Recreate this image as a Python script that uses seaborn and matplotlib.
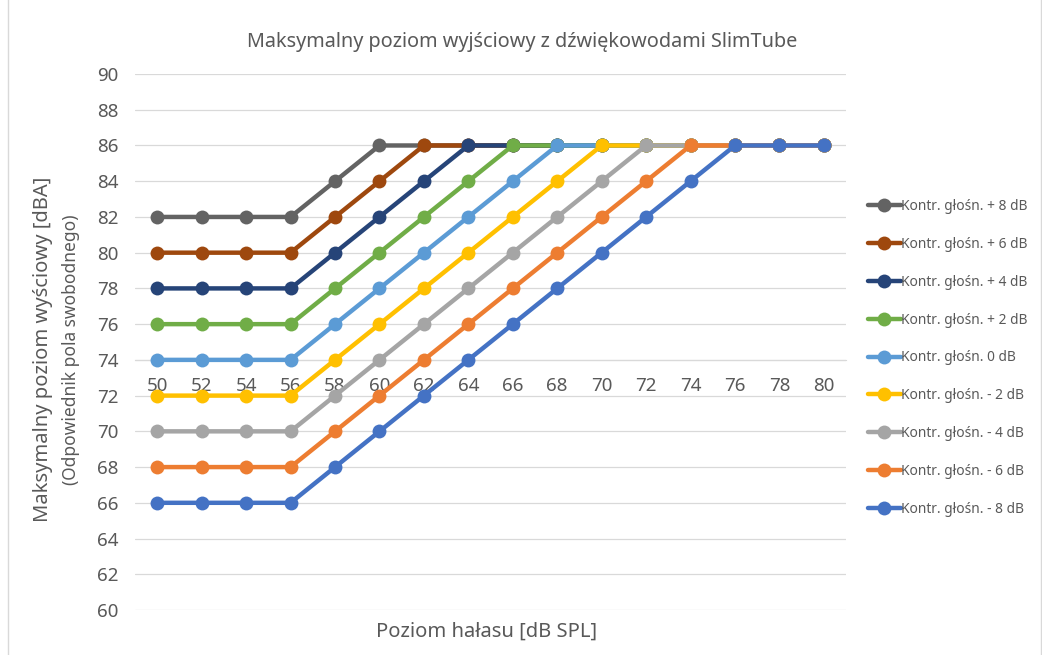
import seaborn as sns
import pandas as pd
import numpy as np
import matplotlib.pyplot as plt
from matplotlib.patches import Rectangle

# dane
poziom_halasu = [50, 52, 54, 56, 58, 60, 62, 64, 66, 68, 70, 72, 74, 76, 78, 80]
plus8 = [82, 82, 82, 82, 84, 86, 86, 86, 86, 86, 86, 86, 86, 86, 86, 86]
plus6 = [80, 80, 80, 80, 82, 84, 86, 86, 86, 86, 86, 86, 86, 86, 86, 86]
plus4 = [78, 78, 78, 78, 80, 82, 84, 86, 86, 86, 86, 86, 86, 86, 86, 86]
plus2 = [76, 76, 76, 76, 78, 80, 82, 84, 86, 86, 86, 86, 86, 86, 86, 86]
zero = [74, 74, 74, 74, 76, 78, 80, 82, 84, 86, 86, 86, 86, 86, 86, 86]
minus2 = [72, 72, 72, 72, 74, 76, 78, 80, 82, 84, 86, 86, 86, 86, 86, 86]
minus4 = [70, 70, 70, 70, 72, 74, 76, 78, 80, 82, 84, 86, 86, 86, 86, 86]
minus6 = [68, 68, 68, 68, 70, 72, 74, 76, 78, 80, 82, 84, 86, 86, 86, 86]
minus8 = [66, 66, 66, 66, 68, 70, 72, 74, 76, 78, 80, 82, 84, 86, 86, 86]

serie = [plus8, plus6, plus4, plus2, zero, minus2, minus4, minus6, minus8]
etykiety = ["Kontr. głośn. + 8 dB", "Kontr. głośn. + 6 dB", "Kontr. głośn. + 4 dB",
            "Kontr. głośn. + 2 dB", "Kontr. głośn. 0 dB", "Kontr. głośn. - 2 dB",
            "Kontr. głośn. - 4 dB", "Kontr. głośn. - 6 dB", "Kontr. głośn. - 8 dB"]
kolory = ["#636363", "#9E480E", "#264478", "#70AD47", "#5B9BD5",
          "#FFC000", "#A5A5A5", "#ED7D31", "#4472C4"]

sns.set_style("white")
plt.rcParams['font.family'] = ['Noto Sans', 'DejaVu Sans']
szary = "#595959"

fig = plt.figure(figsize=(10.42, 6.55), dpi=100)
ax = fig.add_axes([0.1296, 0.0687, 0.6824, 0.8183])

for wartosci, etykieta, kolor in zip(serie, etykiety, kolory):
    sns.lineplot(x=poziom_halasu, y=wartosci, ax=ax, color=kolor, label=etykieta,
                 linewidth=3.2, marker="o", markersize=10, markeredgewidth=0)

ax.set_xlim(49, 81)
ax.set_ylim(60, 90)
ax.set_yticks(np.arange(60, 91, 2))
ax.set_xticks(poziom_halasu)
ax.set_xticks(np.arange(49, 82, 2), minor=True)
ax.grid(axis="y", color="#d9d9d9", linewidth=0.9)
ax.set_axisbelow(True)

for s in ["left", "right", "top"]:
    ax.spines[s].set_visible(False)
ax.spines["bottom"].set_position(("data", 74))
ax.spines["bottom"].set_color("#d9d9d9")
ax.spines["bottom"].set_zorder(0.5)
ax.tick_params(axis="x", which="major", length=0, pad=12, labelsize=13.5, labelcolor=szary)
ax.tick_params(axis="x", which="minor", length=5, color="#d9d9d9", direction="out")
ax.tick_params(axis="y", length=0, pad=12, labelsize=13.5, labelcolor=szary)

# tytuł wyśrodkowany na całej figurze
fig.text(0.501, 0.936, "Maksymalny poziom wyjściowy z dźwiękowodami SlimTube",
         ha="center", va="center", fontsize=14.3, color=szary)
fig.text(0.467, 0.035, "Poziom hałasu [dB SPL]", ha="center", va="center",
         fontsize=14.5, color=szary)
fig.text(0.041, 0.466, "Maksymalny poziom wyściowy [dBA]", rotation=90,
         ha="center", va="center", fontsize=14.5, color=szary)
fig.text(0.068, 0.466, "(Odpowiednik pola swobodnego)", rotation=90,
         ha="center", va="center", fontsize=12.5, color=szary)

leg = ax.legend(loc="upper left", bbox_to_anchor=(1.023, 0.777), frameon=False,
                fontsize=9.9, labelspacing=1.66, handlelength=2.4, handletextpad=0.0,
                borderaxespad=0)
for t in leg.get_texts():
    t.set_color(szary)

fig.patches.append(Rectangle((0.008, -0.01), 0.991, 1.02, transform=fig.transFigure,
                             fill=False, edgecolor="#d9d9d9", linewidth=1))

fig.savefig("out.png", dpi=100)
